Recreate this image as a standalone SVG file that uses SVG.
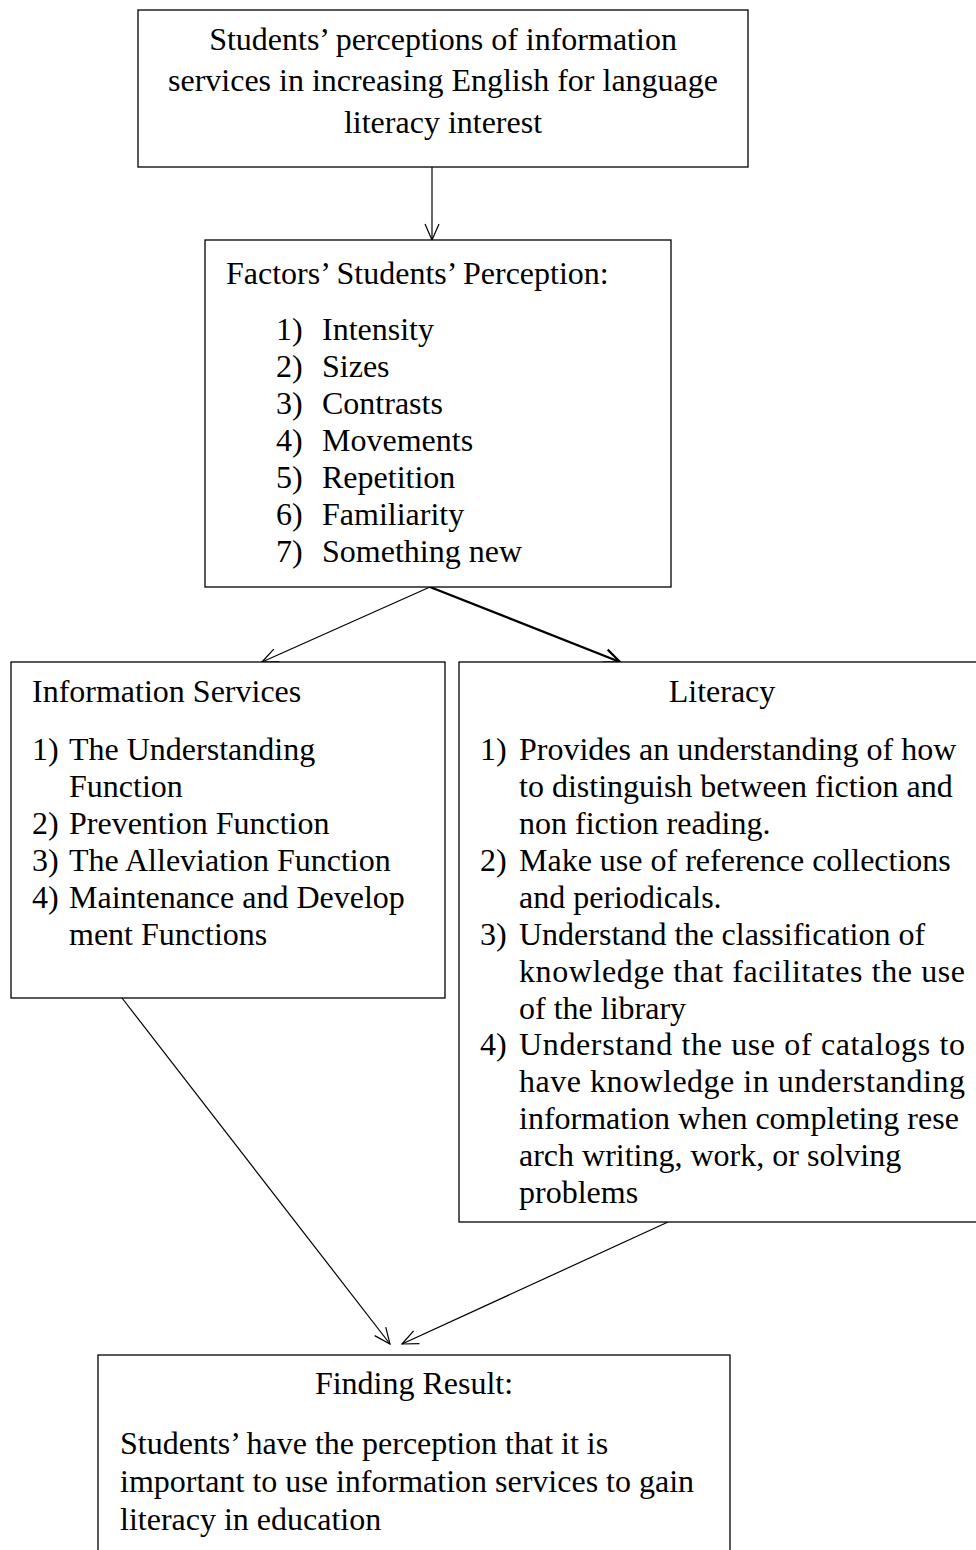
<svg xmlns="http://www.w3.org/2000/svg" width="976" height="1550" viewBox="0 0 976 1550">
<style>
text{font-family:"Liberation Serif","Times New Roman",serif;font-size:32px;fill:#000}
.box{fill:#fff;stroke:#000;stroke-width:1.3}
.c{text-anchor:middle}
.ln{stroke:#000;stroke-width:1.2;fill:none}
.bold{stroke-width:2.4}
</style>
<defs>
<marker id="ah" markerWidth="20" markerHeight="20" refX="18" refY="10" orient="auto" markerUnits="userSpaceOnUse">
<path d="M2,3 L18,10 L2,17" fill="none" stroke="#000" stroke-width="1.2"/>
</marker>
<marker id="ahb" markerWidth="20" markerHeight="20" refX="18" refY="10" orient="auto" markerUnits="userSpaceOnUse">
<path d="M2,3 L18,10 L2,17" fill="none" stroke="#000" stroke-width="2.2"/>
</marker>
</defs>
<rect width="976" height="1550" fill="#fff"/>
<g id="connectors">
<line class="ln" x1="432" y1="167" x2="432" y2="240" marker-end="url(#ah)"/>
<line class="ln" x1="430" y1="587" x2="262" y2="662" marker-end="url(#ah)"/>
<line class="ln bold" x1="430" y1="587" x2="620" y2="662" marker-end="url(#ahb)"/>
<line class="ln" x1="122" y1="998" x2="390" y2="1344" marker-end="url(#ah)"/>
<line class="ln" x1="668" y1="1222" x2="402" y2="1344" marker-end="url(#ah)"/>
</g>
<g id="node-top">
<rect class="box" x="138" y="10" width="610" height="157"/>
<text class="c" x="443" y="50">Students’ perceptions of information</text>
<text class="c" x="443" y="91">services in increasing English for language</text>
<text class="c" x="443" y="133">literacy interest</text>
</g>
<g id="node-factors">
<rect class="box" x="205" y="240" width="466" height="347"/>
<text x="226" y="284">Factors’ Students’ Perception:</text>
<text x="276" y="340">1)</text><text x="322" y="340">Intensity</text>
<text x="276" y="377">2)</text><text x="322" y="377">Sizes</text>
<text x="276" y="414">3)</text><text x="322" y="414">Contrasts</text>
<text x="276" y="451">4)</text><text x="322" y="451">Movements</text>
<text x="276" y="488">5)</text><text x="322" y="488">Repetition</text>
<text x="276" y="525">6)</text><text x="322" y="525">Familiarity</text>
<text x="276" y="562">7)</text><text x="322" y="562">Something new</text>
</g>
<g id="node-info">
<rect class="box" x="11" y="662" width="434" height="336"/>
<text x="32" y="702">Information Services</text>
<text x="32" y="760">1)</text><text x="69" y="760">The Understanding</text>
<text x="69" y="797">Function</text>
<text x="32" y="834">2)</text><text x="69" y="834">Prevention Function</text>
<text x="32" y="871">3)</text><text x="69" y="871">The Alleviation Function</text>
<text x="32" y="908">4)</text><text x="69" y="908">Maintenance and Develop</text>
<text x="69" y="945">ment Functions</text>
</g>
<g id="node-literacy">
<rect class="box" x="459" y="662" width="520" height="560"/>
<text class="c" x="722" y="702">Literacy</text>
<text x="480" y="760">1)</text><text x="519" y="760">Provides an understanding of how</text>
<text x="519" y="797">to distinguish between fiction and</text>
<text x="519" y="834">non fiction reading.</text>
<text x="480" y="871">2)</text><text x="519" y="871">Make use of reference collections</text>
<text x="519" y="908">and periodicals.</text>
<text x="480" y="945">3)</text><text x="519" y="945">Understand the classification of</text>
<text x="519" y="982" textLength="446" lengthAdjust="spacing">knowledge that facilitates the use</text>
<text x="519" y="1019">of the library</text>
<text x="480" y="1055">4)</text><text x="519" y="1055" textLength="446" lengthAdjust="spacing">Understand the use of catalogs to</text>
<text x="519" y="1092" textLength="446" lengthAdjust="spacing">have knowledge in understanding</text>
<text x="519" y="1129">information when completing rese</text>
<text x="519" y="1166">arch writing, work, or solving</text>
<text x="519" y="1203">problems</text>
</g>
<g id="node-result">
<rect class="box" x="98" y="1355" width="632" height="205"/>
<text class="c" x="414" y="1394">Finding Result:</text>
<text x="120" y="1454">Students’ have the perception that it is</text>
<text x="120" y="1492">important to use information services to gain</text>
<text x="120" y="1530">literacy in education</text>
</g>
</svg>
